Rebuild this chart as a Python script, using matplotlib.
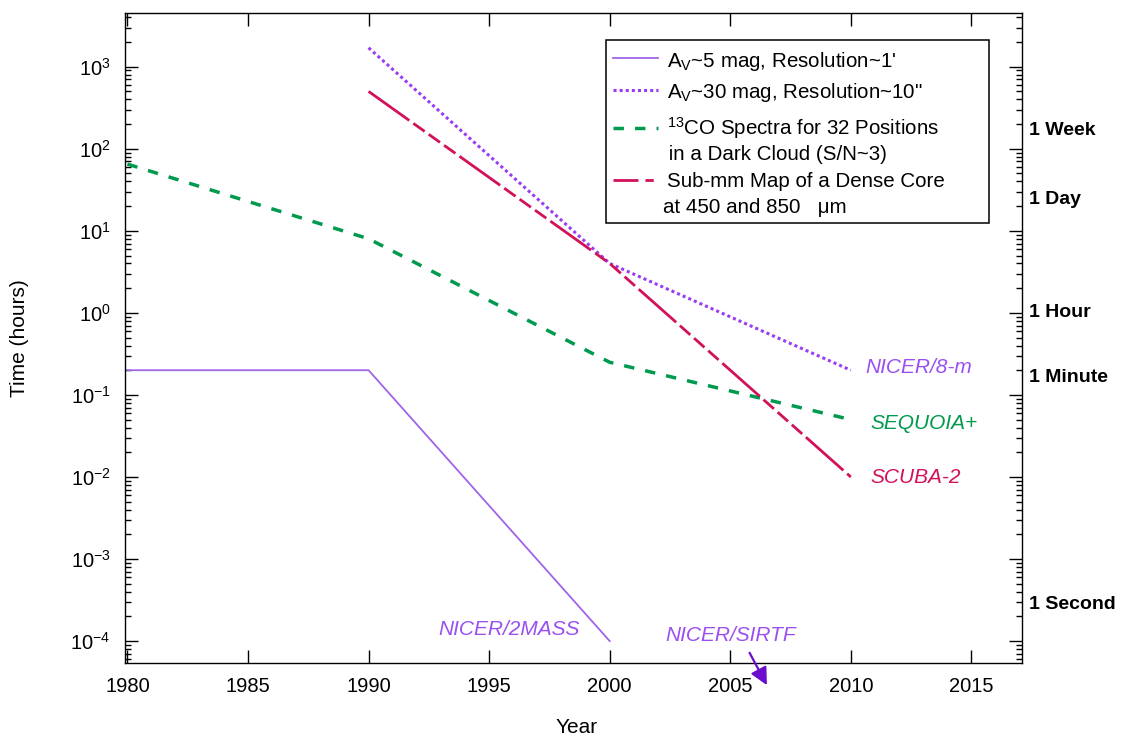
import matplotlib.pyplot as plt
from matplotlib.lines import Line2D
from matplotlib.patches import Rectangle
import matplotlib.transforms as mtransforms

plt.rcParams['font.family'] = ['Liberation Sans', 'DejaVu Sans']
plt.rcParams['mathtext.fontset'] = 'custom'
plt.rcParams['mathtext.rm'] = 'Liberation Sans'
plt.rcParams['mathtext.it'] = 'Liberation Sans:italic'
plt.rcParams['mathtext.bf'] = 'Liberation Sans:bold'
plt.rcParams['axes.unicode_minus'] = False

# Valeurs (temps en heures)
years_av5 = [1980, 1990, 2000]
time_av5 = [0.2, 0.2, 1e-4]
years_av30 = [1990, 2000, 2010]
time_av30 = [1700, 4.0, 0.2]
years_co = [1980, 1990, 2000, 2010]
time_co = [65, 8, 0.25, 0.05]
years_submm = [1990, 2000, 2010]
time_submm = [500, 4.0, 0.01]

# Echelle de temps a droite
scale_labels = ['1 Week', '1 Day', '1 Hour', '1 Minute', '1 Second']
scale_hours = [168, 24, 1, 0.165, 1 / 3600]

# Noms des instruments
instr_names = ['NICER/8-m', 'SEQUOIA+', 'SCUBA-2', 'NICER/2MASS', 'NICER/SIRTF']
instr_year = [2010.6, 2010.8, 2010.8, 1992.9, 2002.3]
instr_time = [0.215, 0.045, 0.0099, 1.4e-4, 1.16e-4]

c_av5 = '#a064e8'
c_av30 = '#9a3cf2'
c_co = '#009a4e'
c_sub = '#d2115a'
c_txt = '#9b4ff0'
c_arrow = '#6a0dcc'
instr_colors = [c_txt, c_co, c_sub, c_txt, c_txt]

fig = plt.figure(figsize=(11.22, 7.39), dpi=100)
ax = fig.add_axes([0.1110, 0.1028, 0.7999, 0.8800])

ax.plot(years_av5, time_av5, color=c_av5, lw=1.3)
ax.plot(years_av30, time_av30, color=c_av30, lw=2.2, dashes=(1, 1))
ax.plot(years_co, time_co, color=c_co, lw=2.5, dashes=(3.0, 3.2))
ax.plot(years_submm, time_submm, color=c_sub, lw=2.0,
        dashes=(18, 1.8, 5, 1.8, 5, 1.8, 5, 1.8))

ax.set_yscale('log')
ax.set_xlim(1979.88, 2017.1)
ax.set_ylim(5.4e-5, 4550)
ax.set_xticks(range(1980, 2016, 5))

ax.tick_params(which='both', direction='in', top=True, right=True, width=1.0)
ax.tick_params(which='major', length=9.5, labelsize=14.5)
ax.tick_params(which='minor', length=4.2)
ax.tick_params(axis='x', pad=10)
ax.tick_params(axis='y', pad=10)
for s in ax.spines.values():
    s.set_linewidth(1.0)

ax.set_xlabel('Year', fontsize=15)
ax.set_ylabel('Time (hours)', fontsize=15)
ax.xaxis.set_label_coords(0.504, -0.084)
ax.yaxis.set_label_coords(-0.1064, 0.5)

# Echelle de temps a droite
trans = mtransforms.blended_transform_factory(ax.transAxes, ax.transData)
for lab, h in zip(scale_labels, scale_hours):
    ax.text(1.0075, h, lab, transform=trans, ha='left', va='center',
            fontsize=14, fontweight='bold')

# Instruments
for name, x, y, c in zip(instr_names, instr_year, instr_time, instr_colors):
    ax.text(x, y, name, color=c, fontsize=15, style='italic',
            ha='left', va='center')

ax.annotate('', xy=(2006.52, 2.9e-5), xytext=(2005.8, 7.2e-5),
            annotation_clip=False,
            arrowprops=dict(arrowstyle='-|>', color=c_arrow, lw=1.6,
                            mutation_scale=26, shrinkA=0, shrinkB=0))

# Legende dessinee a la main
ax.add_patch(Rectangle((0.537, 0.677), 0.426, 0.281, transform=ax.transAxes,
                       fill=False, edgecolor='black', lw=1.1, zorder=5))
leg_rows = [
    (0.9299, 0.917, 'A$_{\\mathrm{V}}$~5 mag, Resolution~1\'',
     dict(color=c_av5, lw=1.3)),
    (0.8811, 0.8684, 'A$_{\\mathrm{V}}$~30 mag, Resolution~10"',
     dict(color=c_av30, lw=2.2, dashes=(1, 1))),
    (0.8222, 0.8119, '$^{13}$CO Spectra for 32 Positions',
     dict(color=c_co, lw=2.5, dashes=(3.0, 3.2))),
    (None, 0.7734, ' in a Dark Cloud (S/N~3)', None),
    (0.7423, 0.7324, 'Sub-mm Map of a Dense Core',
     dict(color=c_sub, lw=2.0, dashes=(9, 2.5, 3, 2.5))),
    (None, 0.6925, 'at 450 and 850   \u03bcm', None),
]
for yl, yt, txt, style in leg_rows:
    if style is not None:
        ax.add_line(Line2D([0.5445, 0.5945], [yl, yl], transform=ax.transAxes,
                           zorder=5, **style))
    xt = 0.6045 if style is not None else 0.6005
    ax.text(xt, yt, txt, transform=ax.transAxes, fontsize=14.8,
            ha='left', va='baseline', zorder=5)

fig.savefig('out.png', dpi=100)
